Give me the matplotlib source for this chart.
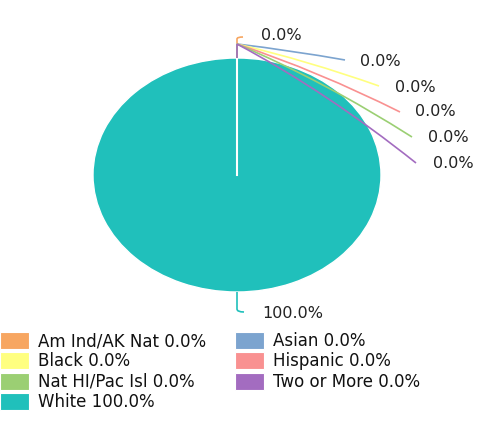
import matplotlib
matplotlib.use('Agg')
import matplotlib.pyplot as plt
import numpy as np
from matplotlib.path import Path
from matplotlib.patches import PathPatch, Rectangle

# data
groups = ['Am Ind/AK Nat', 'Asian', 'Black', 'Hispanic', 'Nat HI/Pac Isl', 'Two or More', 'White']
shares = [0.0, 0.0, 0.0, 0.0, 0.0, 0.0, 100.0]
colors = ['#F7A661', '#7CA4CF', '#FFFF80', '#F99191', '#9BCF73', '#A36CC0', '#20C0BB']

# layout (pixel coords of figure, y downwards)
W, H = 487, 434
pie_box = (93, 58, 381, 292)  # left, top, right, bottom of the ellipse
label_pos = [(261, 36), (360, 62), (395, 88), (415, 112), (428, 138), (433, 163), (262, 313)]
knee_y = [39, 44, 44, 44, 44, 44, 309]
line_end = [(243, 37), (345, 60), (379, 86), (400, 112), (412, 137), (416, 163), (244, 312)]
legend_rows = [(0, 340), (235, 340), (0, 360), (235, 360), (0, 381), (235, 381), (0, 401)]

fig = plt.figure(figsize=(W / 100, H / 100), dpi=100)

l, t, r, b = pie_box
pie_ax = fig.add_axes([l / W, 1 - b / H, (r - l) / W, (b - t) / H])
wedges, _ = pie_ax.pie(shares, colors=colors, startangle=90, counterclock=False,
                       wedgeprops=dict(edgecolor='white', linewidth=1.0))
pie_ax.set_aspect('auto')
pie_ax.set_xlim(-1, 1)
pie_ax.set_ylim(-1, 1)
# slice boundary at the start angle (zero slices collapse onto it)
pie_ax.plot([0, 0], [0, 1], color='white', lw=1.5)

ax = fig.add_axes([0, 0, 1, 1])
ax.set_xlim(0, W)
ax.set_ylim(H, 0)
ax.axis('off')

to_px = pie_ax.transData + ax.transData.inverted()
for i, (g, v) in enumerate(zip(groups, shares)):
    w = wedges[i]
    mid = np.deg2rad((w.theta1 + w.theta2) / 2)
    sx, sy = to_px.transform((np.cos(mid), np.sin(mid)))
    ex, ey = line_end[i]
    ky = knee_y[i]
    cx = sx + 0.5 * (ex - sx)
    cy = ky + 0.4 * (ey - ky)
    if i in (0, 6):
        cx, cy = sx, ey
    path = Path([(sx, sy), (sx, ky), (cx, cy), (ex, ey)],
                [Path.MOVETO, Path.LINETO, Path.CURVE3, Path.CURVE3])
    ax.add_patch(PathPatch(path, fill=False, edgecolor=colors[i], lw=1.2))
    lx, ly = label_pos[i]
    ax.text(lx, ly, f'{v:.1f}%', fontsize=11.5, color='#222222', ha='left', va='center')

# legend
for i, (g, v) in enumerate(zip(groups, shares)):
    x, y = legend_rows[i]
    ax.add_patch(Rectangle((x, y - 8.5), 29, 17, facecolor=colors[i], edgecolor='white', lw=0.8))
    ax.text(x + 38, y + 1, f'{g} {v:.1f}%', fontsize=12, color='#111111', ha='left', va='center')

fig.savefig('out.png', dpi=100)
